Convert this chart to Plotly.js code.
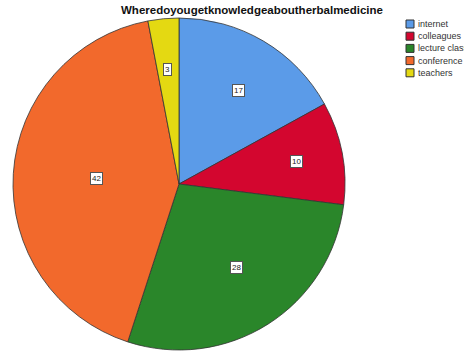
<!DOCTYPE html>
<html><head><meta charset="utf-8">
<script src="https://cdn.plot.ly/plotly-3.0.1.min.js"></script>
<style>body{margin:0;background:#fff}#c{width:464px;height:358px}</style>
</head><body><div id="c"></div>
<script>
const categories = ["internet", "colleagues", "lecture class", "conference", "teachers"];
const values = [17, 10, 28, 42, 3];
const colors = ["#5b9be8", "#d3062f", "#2a862a", "#f2692c", "#e4d912"];

const W = 464, H = 358;
const cx = 179, cy = 184, R = 166;
const total = values.reduce((a, b) => a + b, 0);
const annotations = [];
const shapes = [];
let cum = 0;
values.forEach((v, i) => {
  const half = Math.PI * v / total;
  const mid = 2 * Math.PI * (cum + v / 2) / total;
  const f = 1.1 * 2 * Math.sin(half) / (3 * half);
  const px = cx + f * R * Math.sin(mid);
  const py = cy - f * R * Math.cos(mid);
  annotations.push({
    x: px / W, y: 1 - py / H, xref: "paper", yref: "paper",
    text: String(v), showarrow: false,
    font: {family: "Liberation Sans, Arial", size: 8, color: "#222"},
    bgcolor: "#ffffff", bordercolor: "#555", borderwidth: 1, borderpad: 1
  });
  cum += v;
});

// legend built from categories/colors
const lgX = 406, lgY = 24, lgStep = 12.2, box = 8;
categories.forEach((c, i) => {
  const yc = lgY + i * lgStep;
  shapes.push({type: "rect", xref: "paper", yref: "paper",
    x0: lgX / W, x1: (lgX + box) / W, y0: 1 - (yc + box / 2) / H, y1: 1 - (yc - box / 2) / H,
    fillcolor: colors[i], line: {color: "#333", width: 1}});
  annotations.push({x: (lgX + box + 2) / W, y: 1 - yc / H, xref: "paper", yref: "paper",
    xanchor: "left", yanchor: "middle", showarrow: false, text: c,
    font: {family: "Liberation Sans, Arial", size: 9, color: "#333"}});
});

const trace = {
  type: "pie", labels: categories, values: values, sort: false,
  direction: "clockwise", rotation: 0,
  marker: {colors: colors, line: {color: "#333", width: 0.8}},
  textinfo: "none", hoverinfo: "label+value",
  domain: {x: [(cx - R) / W, (cx + R) / W], y: [1 - (cy + R) / H, 1 - (cy - R) / H]}
};

const layout = {
  width: W, height: H,
  margin: {l: 0, r: 0, t: 0, b: 0, autoexpand: false},
  paper_bgcolor: "#fff",
  title: {text: "<b>Wheredoyougetknowledgeaboutherbalmedicine</b>", x: 252 / W, xanchor: "center",
          y: 1 - 10 / H, yanchor: "middle",
          font: {family: "Liberation Sans, Arial", size: 11.5, color: "#111"}},
  showlegend: false,
  annotations: annotations,
  shapes: shapes
};

Plotly.newPlot("c", [trace], layout, {staticPlot: true});
</script></body></html>
